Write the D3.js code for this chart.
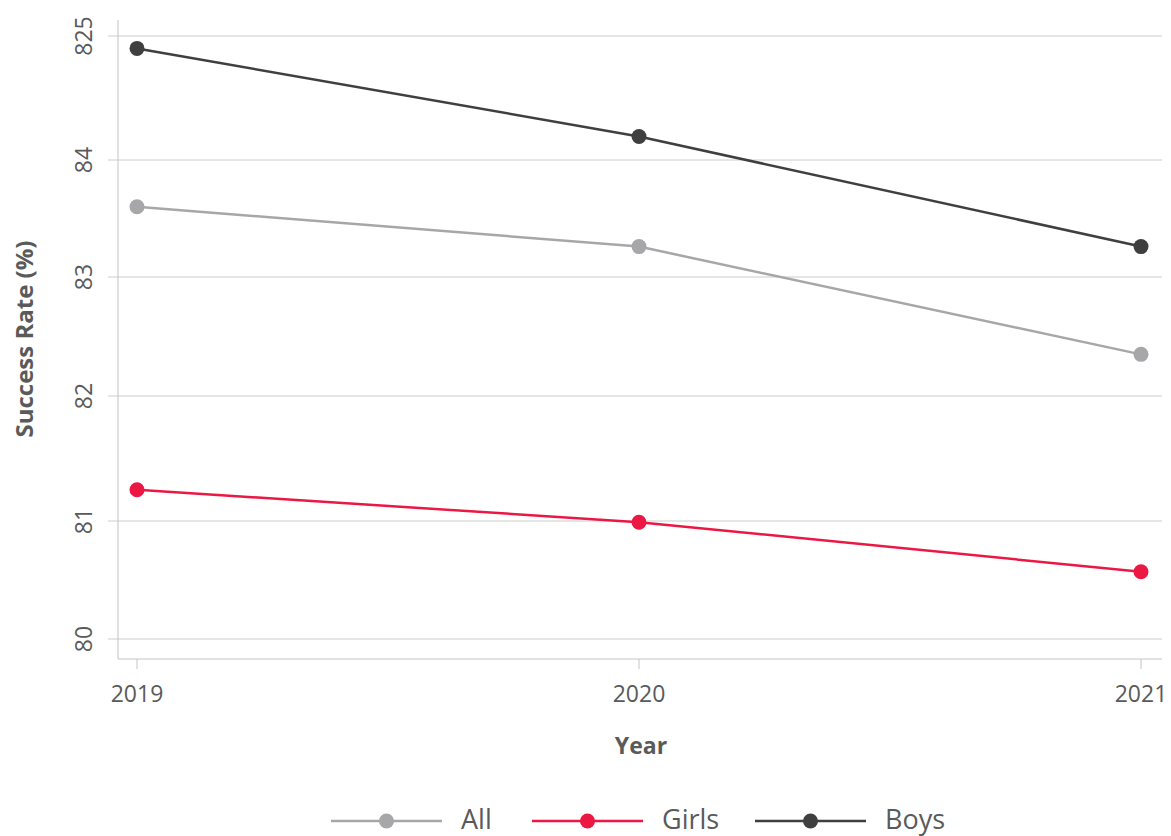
<!DOCTYPE html>
<html><head><meta charset="utf-8">
<script src="https://cdn.jsdelivr.net/npm/d3@7/dist/d3.min.js"></script>
<style>
html,body{margin:0;padding:0;background:#fff;}
svg{display:block;font-family:"Open Sans",sans-serif;}
</style></head>
<body><svg id="c" width="1171" height="836"></svg>
<script>
const years = ["2019","2020","2021"];
const allValues = [83.60, 83.26, 82.35];
const girlsValues = [81.25, 80.99, 80.57];
const boysValues = [84.90, 84.19, 83.26];
const seriesNames = ["All","Girls","Boys"];
const yTickValues = [80,81,82,83,84,85];
const yTickLabels = ["80","81","82","83","84","825"];

(function(){
const colors = {All:"#a7a7aa", Girls:"#eb1844", Boys:"#3f3f3f"};
const series = [
  {name:"All", values:allValues},
  {name:"Girls", values:girlsValues},
  {name:"Boys", values:boysValues}
];

const svg = d3.select("#c");
const x = d3.scalePoint().domain(years).range([137,1141]);
const y = d3.scaleLinear().domain(yTickValues).range([639,521,396,277,160,36]);

const pLeft = 118, pRight = 1162, pBottom = 659, pTop = 20;
const textCol = "#5a5a5a";

svg.append("g").selectAll("line").data(yTickValues).join("line")
  .attr("x1",108).attr("x2",pRight)
  .attr("y1",d=>y(d)).attr("y2",d=>y(d))
  .attr("stroke","#cccccc").attr("stroke-width",1);

svg.append("line").attr("x1",pLeft).attr("x2",pLeft).attr("y1",pTop).attr("y2",pBottom)
  .attr("stroke","#c4c4c4").attr("stroke-width",1);
svg.append("line").attr("x1",pLeft).attr("x2",pRight).attr("y1",pBottom).attr("y2",pBottom)
  .attr("stroke","#c4c4c4").attr("stroke-width",1);

svg.append("g").selectAll("line").data(years).join("line")
  .attr("x1",d=>x(d)).attr("x2",d=>x(d)).attr("y1",pBottom).attr("y2",pBottom+10)
  .attr("stroke","#c4c4c4").attr("stroke-width",1);
svg.append("g").selectAll("text").data(years).join("text")
  .attr("x",d=>x(d)).attr("y",702)
  .attr("text-anchor","middle").attr("font-size",23).attr("fill",textCol)
  .text(d=>d);

svg.append("g").selectAll("text").data(yTickValues).join("text")
  .attr("transform",(d)=>`translate(92,${y(d)}) rotate(-90)`)
  .attr("text-anchor","middle").attr("font-size",23).attr("fill",textCol)
  .text((d,i)=>yTickLabels[i]);

svg.append("text").attr("x",641).attr("y",754).attr("text-anchor","middle")
  .attr("font-size",23).attr("font-weight","bold").attr("fill",textCol).text("Year");
svg.append("text").attr("transform","translate(33,339) rotate(-90)")
  .attr("text-anchor","middle").attr("font-size",24).attr("font-weight","bold")
  .attr("fill",textCol).text("Success Rate (%)");

const line = d3.line().x((d,i)=>x(years[i])).y(d=>y(d));
const g = svg.append("g");
series.forEach(s=>{
  g.append("path").attr("d",line(s.values)).attr("fill","none")
    .attr("stroke",colors[s.name]).attr("stroke-width",2.5);
  g.selectAll(null).data(s.values).join("circle")
    .attr("cx",(d,i)=>x(years[i])).attr("cy",d=>y(d)).attr("r",7.5)
    .attr("fill",colors[s.name]);
});

const legX = [331,532,755];
const lg = svg.append("g");
seriesNames.forEach((n,i)=>{
  const x0 = legX[i];
  lg.append("line").attr("x1",x0).attr("x2",x0+111).attr("y1",821).attr("y2",821)
    .attr("stroke",colors[n]).attr("stroke-width",2.5);
  lg.append("circle").attr("cx",x0+55.5).attr("cy",821).attr("r",7.5).attr("fill",colors[n]);
  lg.append("text").attr("x",x0+130).attr("y",829).attr("font-size",27)
    .attr("fill",textCol).text(n);
});
})();
</script></body></html>
